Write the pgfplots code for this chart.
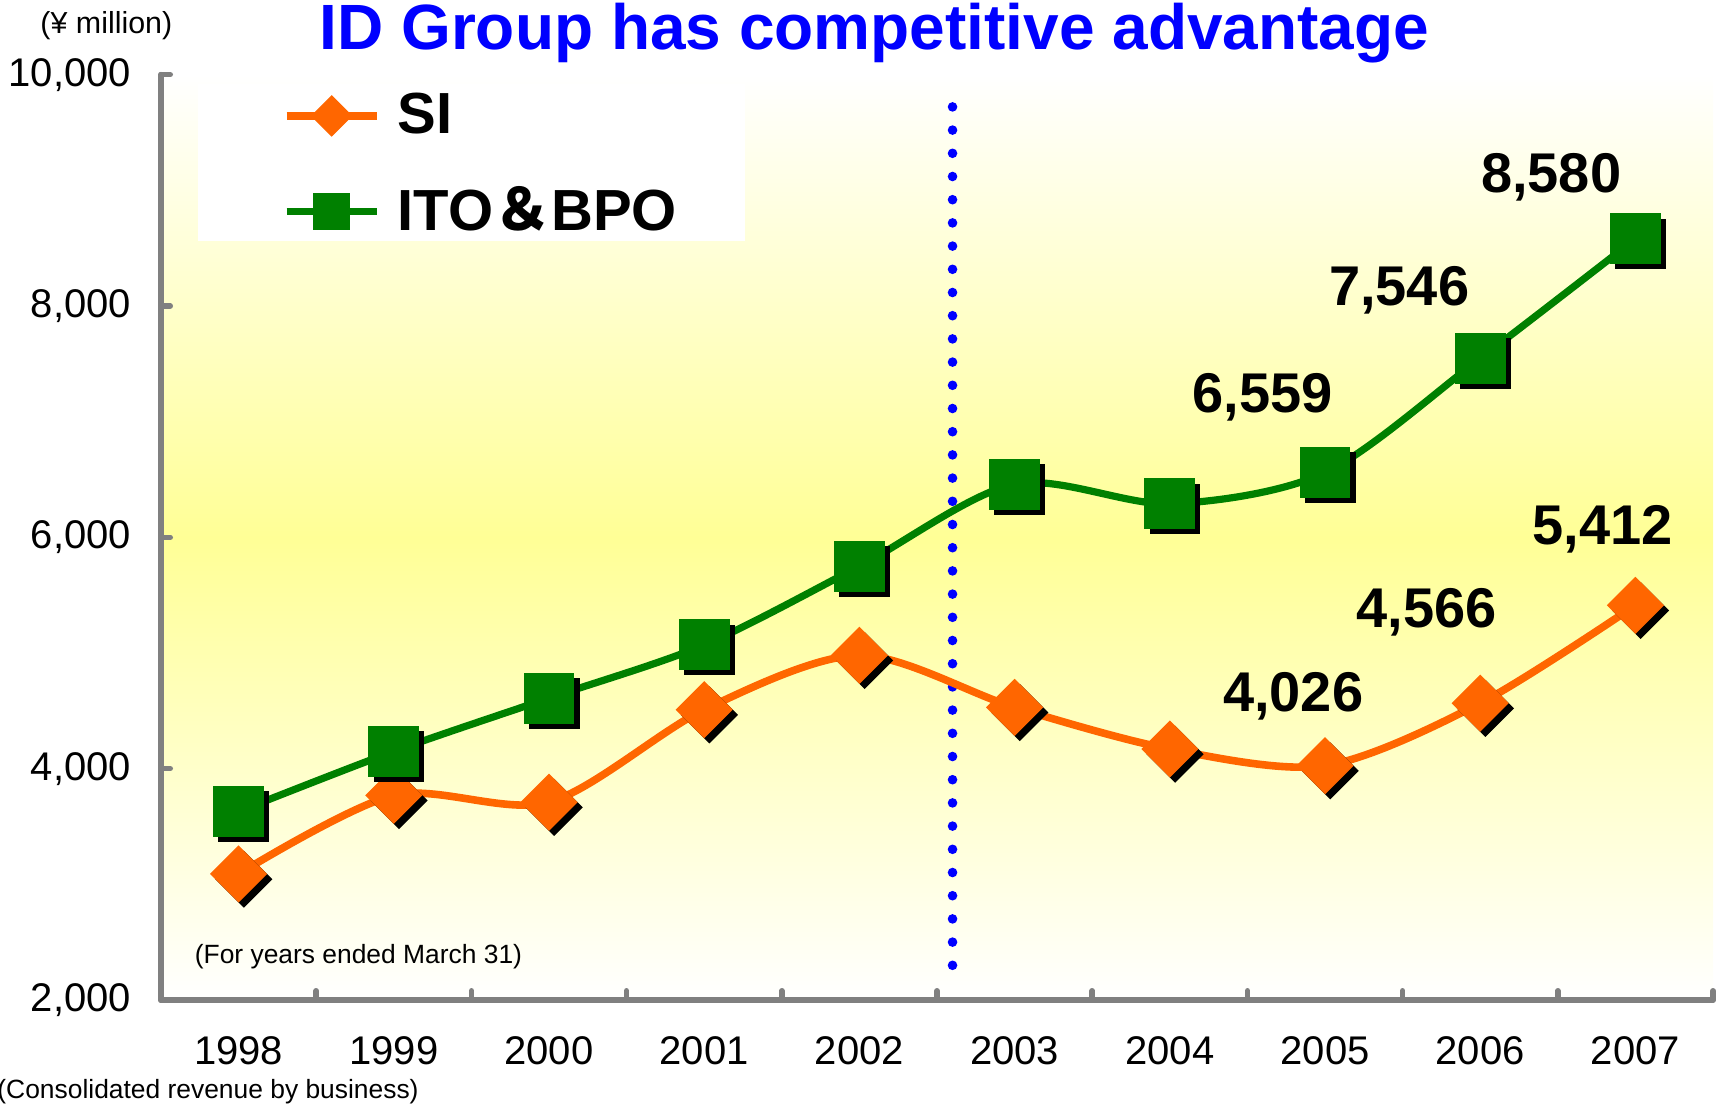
\documentclass[border=0pt]{standalone}
\usepackage{pgfplots}
\pgfplotsset{compat=1.18}
\usepackage{pgfplotstable}
\usepackage{fontspec}
\setmainfont{Liberation Sans}
\newfontfamily\cjk{Noto Sans CJK JP}

\definecolor{siorange}{RGB}{255,102,0}
\definecolor{itogreen}{RGB}{0,128,0}
\definecolor{axisgray}{RGB}{128,128,128}
\definecolor{bgyellow}{RGB}{255,255,150}

% revenue by business, yen million (x: 0 = 1998 ... 9 = 2007)
\pgfplotstableread{
x si ito
0 3090 3630
1 3770 4150
2 3710 4610
3 4510 5070
4 4980 5750
5 4530 6460
6 4170 6290
7 4026 6559
8 4566 7546
9 5412 8580
}\revenue

\begin{document}
\begin{tikzpicture}
\path[use as bounding box] (-40.25pt,-26.25pt) rectangle (389.75pt,250pt);
\begin{axis}[
  scale only axis, width=388pt, height=231.35pt,
  xmin=-0.5, xmax=9.5, ymin=2000, ymax=10000,
  clip=false,
  axis lines=left,
  axis line style={draw=axisgray, line width=1.4pt, line cap=round, -},
  axis background/.style={shade, shading=axis, top color=white, bottom color=white, middle color=bgyellow},
  xtick={0,...,9},
  xticklabels={1998,1999,2000,2001,2002,2003,2004,2005,2006,2007},
  minor xtick={0.5,1.5,...,9.5},
  major x tick style={draw=none},
  ytick={2000,4000,...,10000},
  scaled y ticks=false,
  tick align=inside,
  major tick length=2.3pt, minor tick length=2.3pt,
  tick style={draw=axisgray, line width=1.4pt, line cap=round},
  /pgf/number format/assume math mode=true,
  /pgf/number format/1000 sep={,},
  xticklabel style={font=\fontsize{10}{12}\selectfont, anchor=center, yshift=-12.75pt},
  yticklabel style={font=\fontsize{10}{12}\selectfont, anchor=east, inner sep=0pt, xshift=-7.3pt},
  legend style={at={(rel axis cs:0.078,0.99)}, anchor=north west, draw=none, fill=none,
    font=\bfseries\fontsize{14.5}{16}\selectfont, row sep=7.8pt, inner sep=0pt,
    nodes={inner xsep=4.3pt}},
  legend cell align=left,
  legend image code/.code={\draw[#1, mark repeat=2, mark phase=2, every mark/.append style={scale=0.72}]
    plot coordinates {(0pt,0pt) (11.25pt,0pt) (22.5pt,0pt)};},
]
% white legend panel
\fill[white] (rel axis cs:0.0238,0.99) rectangle (rel axis cs:0.3763,0.8202);

% fiscal divider
\addplot[blue, line width=2.4pt, line cap=round, dash pattern=on 0pt off 5.8pt, forget plot]
  coordinates {(4.6,2300) (4.6,9780)};

% SI
\addplot[only marks, mark=square*, mark size=4.9pt, forget plot,
  mark options={xshift=1.3pt, yshift=-1.3pt, rotate=45, fill=black, draw=black, line width=0.3pt}]
  table[x=x, y=si] {\revenue};
\addplot[siorange, line width=1.9pt, smooth, tension=0.5, mark=square*, mark size=4.9pt,
  mark options={rotate=45, fill=siorange, draw=siorange, line width=0.3pt}]
  table[x=x, y=si] {\revenue};
\addlegendentry{SI}

% ITO & BPO
\addplot[only marks, mark=square*, mark size=6.2pt, forget plot,
  mark options={xshift=1.3pt, yshift=-1.3pt, fill=black, draw=black, line width=0.3pt}]
  table[x=x, y=ito] {\revenue};
\addplot[itogreen, line width=1.8pt, smooth, tension=0.5, mark=square*, mark size=6.2pt,
  mark options={fill=itogreen, draw=itogreen, line width=0.3pt}]
  table[x=x, y=ito] {\revenue};
\addlegendentry{ITO{\cjk ＆}BPO}

% value labels
\begin{scope}[every node/.style={font=\bfseries\fontsize{14}{16}\selectfont}]
\node at (axis cs:8.457,9109) {8,580};
\node at (axis cs:7.478,8133) {7,546};
\node at (axis cs:6.598,7213) {6,559};
\node at (axis cs:8.788,6066) {5,412};
\node at (axis cs:7.654,5355) {4,566};
\node at (axis cs:6.795,4626) {4,026};
\end{scope}

\node[anchor=base, text=blue, font=\bfseries\fontsize{16}{19}\selectfont] at (rel axis cs:0.4596,1.0272) {ID Group has competitive advantage};
\node[anchor=base, font=\fontsize{7.6}{8}\selectfont] at (rel axis cs:-0.0352,1.0439) {(¥ million)};
\node[anchor=base west, inner sep=0pt, font=\fontsize{6.6}{8}\selectfont] at (rel axis cs:0.0213,0.040) {(For years ended March 31)};
\node[anchor=base west, inner sep=0pt, font=\fontsize{6.6}{8}\selectfont] at (rel axis cs:-0.1059,-0.106) {(Consolidated revenue by business)};
\end{axis}
\end{tikzpicture}
\end{document}
